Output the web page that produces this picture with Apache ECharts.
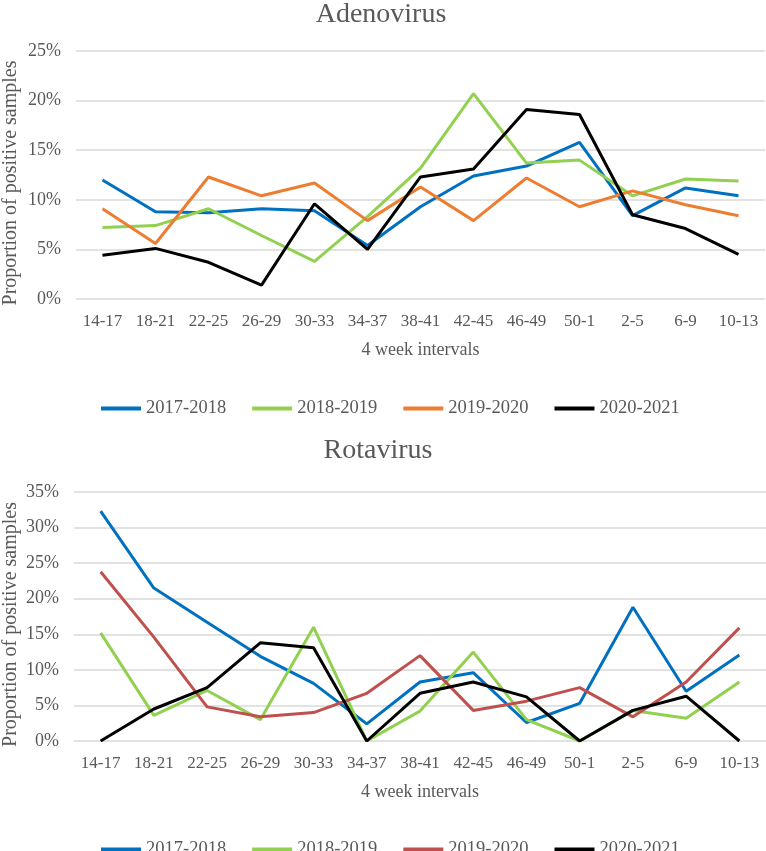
<!DOCTYPE html>
<html>
<head>
<meta charset="utf-8">
<script src="https://cdn.jsdelivr.net/npm/echarts@6/dist/echarts.min.js"></script>
<style>
html,body{margin:0;padding:0;background:#fff;}
#chart{width:766px;height:851px;}
</style>
</head>
<body>
<div id="chart"></div>
<script>
// Categories (4 week intervals)
var categories = ['14-17','18-21','22-25','26-29','30-33','34-37','38-41','42-45','46-49','50-1','2-5','6-9','10-13'];
var seasons = ['2017-2018','2018-2019','2019-2020','2020-2021'];

// Adenovirus (% positive)
var adeno2017 = [12.0, 8.8, 8.7, 9.1, 8.9, 5.4, 9.3, 12.4, 13.4, 15.8, 8.4, 11.2, 10.4];
var adeno2018 = [7.2, 7.4, 9.1, 6.4, 3.8, 8.3, 13.2, 20.7, 13.7, 14.0, 10.4, 12.1, 11.9];
var adeno2019 = [9.1, 5.6, 12.3, 10.4, 11.7, 7.9, 11.3, 7.9, 12.2, 9.3, 10.9, 9.5, 8.4];
var adeno2020 = [4.4, 5.1, 3.7, 1.4, 9.6, 5.0, 12.3, 13.1, 19.1, 18.6, 8.5, 7.1, 4.5];

// Rotavirus (% positive)
var rota2017 = [32.3, 21.5, 16.7, 11.9, 8.1, 2.4, 8.3, 9.6, 2.6, 5.3, 18.8, 7.0, 12.1];
var rota2018 = [15.2, 3.6, 7.1, 3.0, 16.0, 0, 4.2, 12.5, 3.0, 0, 4.3, 3.2, 8.3];
var rota2019 = [23.8, 14.6, 4.8, 3.4, 4.0, 6.7, 12.0, 4.3, 5.6, 7.5, 3.4, 8.3, 15.9];
var rota2020 = [0, 4.5, 7.5, 13.8, 13.1, 0, 6.7, 8.3, 6.2, 0, 4.3, 6.3, 0];

// Axis ticks
var adenoMax = 25, rotaMax = 35, tickStep = 5;

var FONT = "'Liberation Serif','Times New Roman',serif";
var GRAY = '#595959';
var colorsA = ['#0070C0','#92D050','#ED7D31','#000000'];
var colorsR = ['#0070C0','#92D050','#C0504D','#000000'];

function xAx(idx){
  return {
    type:'category', gridIndex:idx, data:categories,
    axisLine:{show:false}, axisTick:{show:false},
    axisLabel:{color:GRAY, fontFamily:FONT, fontSize:17, margin:14},
    name:'4 week intervals', nameLocation:'middle', nameGap:42, nameMoveOverlap:false,
    nameTextStyle:{color:GRAY, fontFamily:FONT, fontSize:18}
  };
}
function yAx(idx, max, gap){
  return {
    type:'value', gridIndex:idx, min:0, max:max, interval:tickStep,
    axisLine:{show:false}, axisTick:{show:false},
    axisLabel:{color:GRAY, fontFamily:FONT, fontSize:18, margin:15, formatter:'{value}%'},
    splitLine:{lineStyle:{color:'#D9D9D9', width:1.5}},
    name:'Proportion of positive samples', nameLocation:'middle', nameGap:gap, nameMoveOverlap:false,
    nameTextStyle:{color:GRAY, fontFamily:FONT, fontSize:20, padding:[0,16,0,0]}
  };
}
function ser(name, data, color, idx){
  return {
    type:'line', name:name, data:data, xAxisIndex:idx, yAxisIndex:idx,
    symbol:'none', lineStyle:{color:color, width:3}, itemStyle:{color:color},
    animation:false
  };
}
function legendOf(idx, top, colors){
  return {
    top:top, left:96, icon:'rect', itemWidth:40, itemHeight:4, itemGap:26,
    textStyle:{color:GRAY, fontFamily:FONT, fontSize:18.5},
    data: seasons.map(function(s,i){ return {name:s, itemStyle:{color:colors[i]}}; })
  };
}

var chart = echarts.init(document.getElementById('chart'));
chart.setOption({
  animation:false,
  backgroundColor:'#fff',
  title:[
    {text:'Adenovirus', left:381, textAlign:'center', top:1, padding:0,
     textStyle:{color:GRAY, fontFamily:FONT, fontSize:28, fontWeight:'normal'}},
    {text:'Rotavirus', left:378, textAlign:'center', top:437, padding:0,
     textStyle:{color:GRAY, fontFamily:FONT, fontSize:28, fontWeight:'normal'}}
  ],
  legend:[legendOf(0, 394, colorsA), legendOf(1, 835, colorsR)],
  grid:[
    {left:76, width:689, top:51, height:248, outerBoundsMode:'none', containLabel:false},
    {left:74, width:692, top:492, height:249, outerBoundsMode:'none', containLabel:false}
  ],
  xAxis:[xAx(0), xAx(1)],
  yAxis:[yAx(0, adenoMax, 55), yAx(1, rotaMax, 53)],
  series:[
    ser(seasons[0], adeno2017, colorsA[0], 0),
    ser(seasons[1], adeno2018, colorsA[1], 0),
    ser(seasons[2], adeno2019, colorsA[2], 0),
    ser(seasons[3], adeno2020, colorsA[3], 0),
    ser(seasons[0], rota2017, colorsR[0], 1),
    ser(seasons[1], rota2018, colorsR[1], 1),
    ser(seasons[2], rota2019, colorsR[2], 1),
    ser(seasons[3], rota2020, colorsR[3], 1)
  ]
});
</script>
</body>
</html>
